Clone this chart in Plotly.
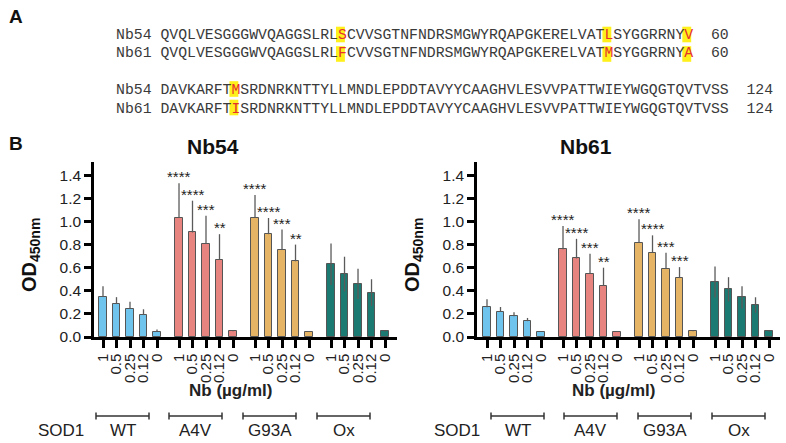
import plotly.graph_objects as go

W, H = 786, 443

# ---------------- data ----------------
concs = ["1", "0.5", "0.25", "0.12", "0"]
groups = ["WT", "A4V", "G93A", "Ox"]
group_colors = ["#6EC4EC", "#E8847F", "#E5B565", "#1B7A72"]

nb54_WT = [0.35, 0.285, 0.245, 0.19, 0.045]
nb54_A4V = [1.03, 0.905, 0.805, 0.67, 0.05]
nb54_G93A = [1.03, 0.89, 0.755, 0.655, 0.045]
nb54_Ox = [0.63, 0.545, 0.46, 0.385, 0.05]
nb54_WT_err = [0.09, 0.06, 0.06, 0.05, 0.02]
nb54_A4V_err = [0.30, 0.275, 0.245, 0.22, 0.01]
nb54_G93A_err = [0.20, 0.14, 0.175, 0.145, 0.006]
nb54_Ox_err = [0.18, 0.15, 0.13, 0.115, 0.005]
nb54_A4V_sig = ["****", "****", "***", "**", ""]
nb54_G93A_sig = ["****", "****", "***", "**", ""]

nb61_WT = [0.257, 0.22, 0.18, 0.137, 0.045]
nb61_A4V = [0.76, 0.68, 0.545, 0.443, 0.045]
nb61_G93A = [0.815, 0.73, 0.59, 0.51, 0.05]
nb61_Ox = [0.476, 0.413, 0.343, 0.277, 0.048]
nb61_WT_err = [0.07, 0.04, 0.035, 0.028, 0.005]
nb61_A4V_err = [0.20, 0.17, 0.175, 0.157, 0.005]
nb61_G93A_err = [0.205, 0.15, 0.14, 0.095, 0.008]
nb61_Ox_err = [0.135, 0.105, 0.097, 0.067, 0.003]
nb61_A4V_sig = ["****", "****", "***", "**", ""]
nb61_G93A_sig = ["****", "****", "***", "***", ""]

yticks = [0.0, 0.2, 0.4, 0.6, 0.8, 1.0, 1.2, 1.4]

seq_nb54_1 = "QVQLVESGGGWVQAGGSLRLSCVVSGTNFNDRSMGWYRQAPGKERELVATLSYGGRRNYV"
seq_nb61_1 = "QVQLVESGGGWVQAGGSLRLFCVVSGTNFNDRSMGWYRQAPGKERELVATMSYGGRRNYA"
seq_nb54_2 = "DAVKARFTMSRDNRKNTTYLLMNDLEPDDTAVYYCAAGHVLESVVPATTWIEYWGQGTQVTVSS"
seq_nb61_2 = "DAVKARFTISRDNRKNTTYLLMNDLEPDDTAVYYCAAGHVLESVVPATTWIEYWGQGTQVTVSS"
diff_1 = [20, 50, 59]
diff_2 = [8]
end_1, end_2 = "60", "124"

panels = [
    dict(name="Nb54", vals=[nb54_WT, nb54_A4V, nb54_G93A, nb54_Ox],
         errs=[nb54_WT_err, nb54_A4V_err, nb54_G93A_err, nb54_Ox_err],
         sig={1: nb54_A4V_sig, 2: nb54_G93A_sig}),
    dict(name="Nb61", vals=[nb61_WT, nb61_A4V, nb61_G93A, nb61_Ox],
         errs=[nb61_WT_err, nb61_A4V_err, nb61_G93A_err, nb61_Ox_err],
         sig={1: nb61_A4V_sig, 2: nb61_G93A_sig}),
]

# ---------------- layout helpers ----------------
GSTEP = 5.63
SLOT = 13.5


def px(x, y):
    return x / W, 1 - y / H


fig = go.Figure()
annotations = []
shapes = []

FONT = "Liberation Sans, Arial, sans-serif"
ax_left = [94, 477]
first_bar = [103, 487]
ax_right = [397, 780]
y_top, y_bot = 162, 337

for p, panel in enumerate(panels):
    xa = "x" if p == 0 else "x2"
    ya = "y" if p == 0 else "y2"
    tickvals, ticktext = [], []
    for g, gname in enumerate(groups):
        xs = [g * GSTEP + i for i in range(5)]
        tickvals += xs
        ticktext += concs
        is_ox = (gname == "Ox")
        fig.add_trace(go.Bar(
            x=xs, y=panel["vals"][g], xaxis=xa, yaxis=ya, width=0.58,
            marker=dict(color=group_colors[g], line=dict(color="#555555", width=1)),
            error_y=dict(type="data", symmetric=False, array=panel["errs"][g],
                         arrayminus=panel["errs"][g] if is_ox else [0] * 5,
                         color="#5a5a5a", thickness=1.3, width=0),
            showlegend=False, hoverinfo="skip"))
        if g in panel["sig"]:
            for i, s in enumerate(panel["sig"][g]):
                if s:
                    annotations.append(dict(
                        x=xs[i], y=panel["vals"][g][i] + panel["errs"][g][i],
                        xref=xa, yref=ya, text=s, showarrow=False,
                        xanchor="center", yanchor="bottom", yshift=-4,
                        font=dict(family=FONT, size=15, color="#222")))
    x0r = (ax_left[p] - first_bar[p]) / SLOT
    x1r = (ax_right[p] - first_bar[p]) / SLOT
    common_x = dict(range=[x0r, x1r], tickvals=tickvals, ticktext=ticktext,
                    tickangle=-90, ticks="outside", ticklen=8, tickwidth=2.5,
                    tickcolor="black", showline=True, linewidth=2.5, linecolor="black",
                    showgrid=False, zeroline=False, automargin=False,
                    tickfont=dict(family=FONT, size=15, color="#222"),
                    domain=[ax_left[p] / W, ax_right[p] / W])
    common_y = dict(range=[0, 1.515], tickvals=yticks,
                    ticktext=["%.1f" % v for v in yticks],
                    ticks="outside", ticklen=7, tickwidth=2.5, tickcolor="black",
                    showline=True, linewidth=2.5, linecolor="black",
                    showgrid=False, zeroline=False, automargin=False,
                    tickfont=dict(family=FONT, size=15.5, color="#222"),
                    domain=[1 - y_bot / H, 1 - y_top / H])
    if p == 0:
        fig.update_layout(xaxis=dict(common_x, anchor="y"), yaxis=dict(common_y, anchor="x"))
    else:
        fig.update_layout(xaxis2=dict(common_x, anchor="y2"), yaxis2=dict(common_y, anchor="x2"))

# ---------------- text annotations ----------------
def add_text(x, y, text, size, bold=False, color="#222", family=FONT, angle=0,
             xanchor="center", yanchor="middle"):
    xp, yp = px(x, y)
    annotations.append(dict(x=xp, y=yp, xref="paper", yref="paper", text=text,
                            showarrow=False, xanchor=xanchor, yanchor=yanchor,
                            textangle=angle,
                            font=dict(family=family, size=size, color=color,
                                      weight="bold" if bold else "normal")))


add_text(16, 16, "A", 19, bold=True, color="#111")
add_text(16, 143, "B", 19, bold=True, color="#111")

# panel titles and axis titles
title_x = [213, 586]
od_x = [30, 413]
nbx = [230, 613]
for p, panel in enumerate(panels):
    add_text(title_x[p], 146, panel["name"], 21, bold=True, color="#111")
    add_text(od_x[p], 255, "OD<sub>450nm</sub>", 20, bold=True, color="#111", angle=-90)
    add_text(nbx[p], 390, "Nb (\u00b5g/ml)", 17, bold=True, color="#222")

# SOD1 brackets
sod_x = [61, 457]
br_starts = [[96, 169, 243, 317], [491, 564, 638, 712]]
br_w = 53
for p in range(2):
    add_text(sod_x[p], 430, "SOD1", 17)
    for g, gname in enumerate(groups):
        a = br_starts[p][g]
        b = a + br_w
        for (xa_, ya_, xb_, yb_) in [(a, 416, b, 416), (a, 412.5, a, 419.5), (b, 412.5, b, 419.5)]:
            pa, pb = px(xa_, ya_), px(xb_, yb_)
            shapes.append(dict(type="line", xref="paper", yref="paper",
                               x0=pa[0], y0=pa[1], x1=pb[0], y1=pb[1],
                               line=dict(color="#333", width=1.5)))
        add_text((a + b) / 2, 430, gname, 17)

# sequences
MONO = "Liberation Mono, Courier New, monospace"
CW = 8.88
SX = 114
RED = "#E5312B"
NB = "\u00a0"


def seq_markup(label, seq, diffs, end):
    out = label + NB
    for k, ch in enumerate(seq):
        out += "<span style='color:%s'>%s</span>" % (RED, ch) if k in diffs else ch
    return out + NB * 2 + end


rows = [("Nb54", seq_nb54_1, diff_1, end_1, 35, 34.5),
        ("Nb61", seq_nb61_1, diff_1, end_1, 53.5, 54),
        ("Nb54", seq_nb54_2, diff_2, end_2, 90, 89),
        ("Nb61", seq_nb61_2, diff_2, end_2, 108.5, 107.5)]
for label, seq, diffs, end, ty, by in rows:
    for k in diffs:
        x0 = SX + (len(label) + 1 + k) * CW
        a, b = px(x0, by - 7.8), px(x0 + CW, by + 7.8)
        shapes.append(dict(type="rect", xref="paper", yref="paper", layer="below",
                           x0=a[0], y0=a[1], x1=b[0], y1=b[1],
                           fillcolor="#FFEF1A", line=dict(width=0)))
    add_text(SX, ty, seq_markup(label, seq, diffs, end), 14.8, color="#3a3a3a",
             family=MONO, xanchor="left")

fig.update_layout(width=W, height=H, margin=dict(l=0, r=0, t=0, b=0),
                  paper_bgcolor="white", plot_bgcolor="white",
                  annotations=annotations, shapes=shapes, bargap=0)

fig.write_html("out.html", config={"displayModeBar": False},
               post_script="document.body.style.margin='0';document.body.style.padding='0';")
